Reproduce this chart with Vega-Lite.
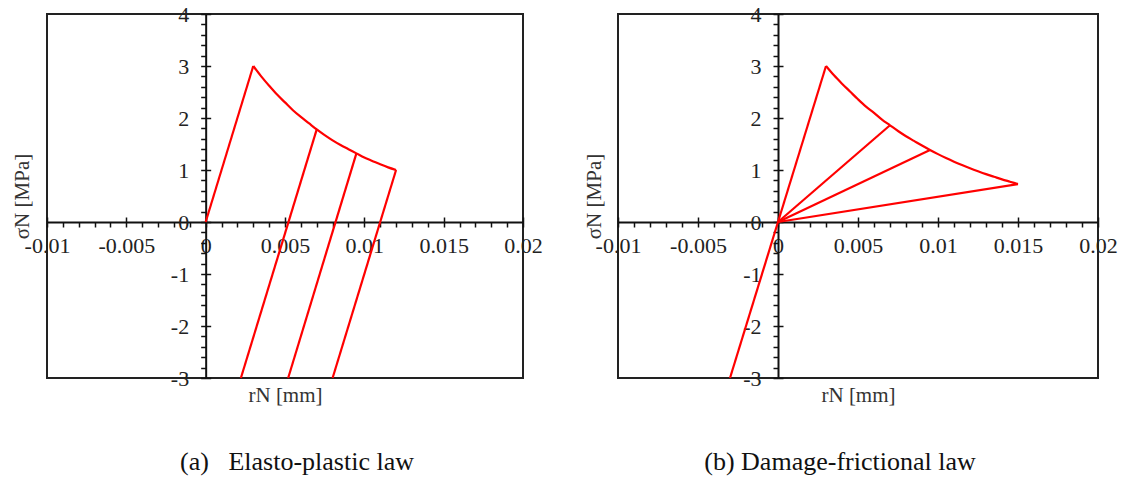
{
  "$schema": "https://vega.github.io/schema/vega-lite/v6.json",
  "padding": {"left": 10, "top": 2, "right": 0, "bottom": 0},
  "spacing": 38,
  "datasets": {
    "ep": [
      {"r": 0, "s": 0, "seg": "load"},
      {"r": 0.003, "s": 3, "seg": "load"},
      {"r": 0.003, "s": 3, "seg": "curve"},
      {"r": 0.0035, "s": 2.80, "seg": "curve"},
      {"r": 0.004, "s": 2.62, "seg": "curve"},
      {"r": 0.0045, "s": 2.45, "seg": "curve"},
      {"r": 0.005, "s": 2.30, "seg": "curve"},
      {"r": 0.0055, "s": 2.15, "seg": "curve"},
      {"r": 0.006, "s": 2.02, "seg": "curve"},
      {"r": 0.0065, "s": 1.90, "seg": "curve"},
      {"r": 0.007, "s": 1.78, "seg": "curve"},
      {"r": 0.0075, "s": 1.67, "seg": "curve"},
      {"r": 0.008, "s": 1.57, "seg": "curve"},
      {"r": 0.0085, "s": 1.48, "seg": "curve"},
      {"r": 0.009, "s": 1.40, "seg": "curve"},
      {"r": 0.0095, "s": 1.32, "seg": "curve"},
      {"r": 0.01, "s": 1.24, "seg": "curve"},
      {"r": 0.0105, "s": 1.175, "seg": "curve"},
      {"r": 0.011, "s": 1.11, "seg": "curve"},
      {"r": 0.0115, "s": 1.05, "seg": "curve"},
      {"r": 0.012, "s": 1.0, "seg": "curve"},
      {"r": 0.00222, "s": -3, "seg": "u1"},
      {"r": 0.007, "s": 1.78, "seg": "u1"},
      {"r": 0.0052, "s": -3, "seg": "u2"},
      {"r": 0.0095, "s": 1.32, "seg": "u2"},
      {"r": 0.008, "s": -3, "seg": "u3"},
      {"r": 0.012, "s": 1.0, "seg": "u3"}
    ],
    "df": [
      {"r": -0.003, "s": -3, "seg": "load"},
      {"r": 0, "s": 0, "seg": "load"},
      {"r": 0.003, "s": 3, "seg": "load"},
      {"r": 0.003, "s": 3, "seg": "curve"},
      {"r": 0.0035, "s": 2.82, "seg": "curve"},
      {"r": 0.004, "s": 2.66, "seg": "curve"},
      {"r": 0.0045, "s": 2.51, "seg": "curve"},
      {"r": 0.005, "s": 2.36, "seg": "curve"},
      {"r": 0.0055, "s": 2.22, "seg": "curve"},
      {"r": 0.006, "s": 2.10, "seg": "curve"},
      {"r": 0.0065, "s": 1.97, "seg": "curve"},
      {"r": 0.007, "s": 1.86, "seg": "curve"},
      {"r": 0.0075, "s": 1.75, "seg": "curve"},
      {"r": 0.008, "s": 1.65, "seg": "curve"},
      {"r": 0.0085, "s": 1.56, "seg": "curve"},
      {"r": 0.009, "s": 1.47, "seg": "curve"},
      {"r": 0.0095, "s": 1.385, "seg": "curve"},
      {"r": 0.01, "s": 1.305, "seg": "curve"},
      {"r": 0.0105, "s": 1.23, "seg": "curve"},
      {"r": 0.011, "s": 1.16, "seg": "curve"},
      {"r": 0.0115, "s": 1.095, "seg": "curve"},
      {"r": 0.012, "s": 1.033, "seg": "curve"},
      {"r": 0.0125, "s": 0.975, "seg": "curve"},
      {"r": 0.013, "s": 0.92, "seg": "curve"},
      {"r": 0.0135, "s": 0.87, "seg": "curve"},
      {"r": 0.014, "s": 0.82, "seg": "curve"},
      {"r": 0.0145, "s": 0.775, "seg": "curve"},
      {"r": 0.015, "s": 0.73, "seg": "curve"},
      {"r": 0, "s": 0, "seg": "u1"},
      {"r": 0.007, "s": 1.86, "seg": "u1"},
      {"r": 0, "s": 0, "seg": "u2"},
      {"r": 0.0095, "s": 1.385, "seg": "u2"},
      {"r": 0, "s": 0, "seg": "u3"},
      {"r": 0.015, "s": 0.73, "seg": "u3"}
    ]
  },
  "config": {
    "view": {"stroke": "#222", "strokeWidth": 2},
    "font": "Liberation Serif",
    "axis": {
      "grid": false,
      "labelFont": "Liberation Serif",
      "labelFontSize": 22,
      "labelColor": "#222",
      "titleFont": "Liberation Serif",
      "titleFontSize": 21,
      "titleFontWeight": "normal",
      "titleColor": "#333",
      "domainColor": "#111",
      "domainWidth": 2,
      "tickColor": "#111",
      "tickWidth": 1.5,
      "labelFlush": false,
      "labelOverlap": false
    },
    "title": {"font": "Liberation Serif", "fontSize": 26, "fontWeight": "normal", "color": "#111"}
  },
  "hconcat": [
    {
      "width": 476,
      "height": 364,
      "title": {"text": "(a)\u00a0\u00a0 Elasto-plastic law", "orient": "bottom", "anchor": "middle", "frame": "group", "dx": 12, "offset": 44},
      "data": {"name": "ep"},
      "resolve": {"axis": {"x": "independent", "y": "independent"}},
      "layer": [
        {
          "mark": {"type": "line", "interpolate": "monotone", "color": "#ff0000", "strokeWidth": 2.2},
          "encoding": {
            "x": {"field": "r", "type": "quantitative", "scale": {"domain": [-0.01, 0.02], "nice": false, "zero": false},
              "axis": {"orient": "bottom", "offset": -156,
                "values": [-0.01,-0.009,-0.008,-0.007,-0.006,-0.005,-0.004,-0.003,-0.002,-0.001,0,0.001,0.002,0.003,0.004,0.005,0.006,0.007,0.008,0.009,0.01,0.011,0.012,0.013,0.014,0.015,0.016,0.017,0.018,0.019,0.02],
                "tickSize": 5, "labelPadding": 8,
                "labelExpr": "abs(datum.value*200 - round(datum.value*200)) < 1e-6 ? (datum.value < -1e-9 ? '-' : '') + format(abs(datum.value), '~g') : ''",
                "title": "rN [mm]", "titleY": 173, "titleBaseline": "middle"}},
            "y": {"field": "s", "type": "quantitative", "scale": {"domain": [-3, 4], "nice": false, "zero": false},
              "axis": {"orient": "left", "offset": -158.67,
                "values": [-3,-2.8,-2.6,-2.4,-2.2,-2,-1.8,-1.6,-1.4,-1.2,-1,-0.8,-0.6,-0.4,-0.2,0,0.2,0.4,0.6,0.8,1,1.2,1.4,1.6,1.8,2,2.2,2.4,2.6,2.8,3,3.2,3.4,3.6,3.8,4],
                "tickSize": 5, "labelPadding": 12,
                "labelExpr": "abs(datum.value - round(datum.value)) < 1e-6 ? (datum.value < -1e-9 ? '-' : '') + format(abs(datum.value), '~g') : ''",
                "title": "σN [MPa]", "titleX": -182.7, "titleBaseline": "middle"}},
            "detail": {"field": "seg"}
          }
        },
        {
          "mark": {"type": "line", "opacity": 0},
          "encoding": {
            "x": {"field": "r", "type": "quantitative", "scale": {"domain": [-0.01, 0.02], "nice": false, "zero": false},
              "axis": {"orient": "bottom", "offset": -156, "values": [-0.01,-0.005,0,0.005,0.01,0.015,0.02], "tickSize": -5, "labels": false, "domain": false, "title": null}},
            "y": {"field": "s", "type": "quantitative", "scale": {"domain": [-3, 4], "nice": false, "zero": false},
              "axis": {"orient": "left", "offset": -158.67, "values": [-3,-2,-1,0,1,2,3,4], "tickSize": -5, "labels": false, "domain": false, "title": null}},
            "detail": {"field": "seg"}
          }
        }
      ]
    },
    {
      "width": 480,
      "height": 364,
      "title": {"text": "(b) Damage-frictional law", "orient": "bottom", "anchor": "middle", "frame": "group", "dx": -18, "offset": 44},
      "data": {"name": "df"},
      "resolve": {"axis": {"x": "independent", "y": "independent"}},
      "layer": [
        {
          "mark": {"type": "line", "interpolate": "monotone", "color": "#ff0000", "strokeWidth": 2.2},
          "encoding": {
            "x": {"field": "r", "type": "quantitative", "scale": {"domain": [-0.01, 0.02], "nice": false, "zero": false},
              "axis": {"orient": "bottom", "offset": -156,
                "values": [-0.01,-0.009,-0.008,-0.007,-0.006,-0.005,-0.004,-0.003,-0.002,-0.001,0,0.001,0.002,0.003,0.004,0.005,0.006,0.007,0.008,0.009,0.01,0.011,0.012,0.013,0.014,0.015,0.016,0.017,0.018,0.019,0.02],
                "tickSize": 5, "labelPadding": 8,
                "labelExpr": "abs(datum.value*200 - round(datum.value*200)) < 1e-6 ? (datum.value < -1e-9 ? '-' : '') + format(abs(datum.value), '~g') : ''",
                "title": "rN [mm]", "titleY": 173, "titleBaseline": "middle"}},
            "y": {"field": "s", "type": "quantitative", "scale": {"domain": [-3, 4], "nice": false, "zero": false},
              "axis": {"orient": "left", "offset": -160,
                "values": [-3,-2.8,-2.6,-2.4,-2.2,-2,-1.8,-1.6,-1.4,-1.2,-1,-0.8,-0.6,-0.4,-0.2,0,0.2,0.4,0.6,0.8,1,1.2,1.4,1.6,1.8,2,2.2,2.4,2.6,2.8,3,3.2,3.4,3.6,3.8,4],
                "tickSize": 5, "labelPadding": 12,
                "labelExpr": "abs(datum.value - round(datum.value)) < 1e-6 ? (datum.value < -1e-9 ? '-' : '') + format(abs(datum.value), '~g') : ''",
                "title": "σN [MPa]", "titleX": -184, "titleBaseline": "middle"}},
            "detail": {"field": "seg"}
          }
        },
        {
          "mark": {"type": "line", "opacity": 0},
          "encoding": {
            "x": {"field": "r", "type": "quantitative", "scale": {"domain": [-0.01, 0.02], "nice": false, "zero": false},
              "axis": {"orient": "bottom", "offset": -156, "values": [-0.01,-0.005,0,0.005,0.01,0.015,0.02], "tickSize": -5, "labels": false, "domain": false, "title": null}},
            "y": {"field": "s", "type": "quantitative", "scale": {"domain": [-3, 4], "nice": false, "zero": false},
              "axis": {"orient": "left", "offset": -160, "values": [-3,-2,-1,0,1,2,3,4], "tickSize": -5, "labels": false, "domain": false, "title": null}},
            "detail": {"field": "seg"}
          }
        }
      ]
    }
  ]
}
